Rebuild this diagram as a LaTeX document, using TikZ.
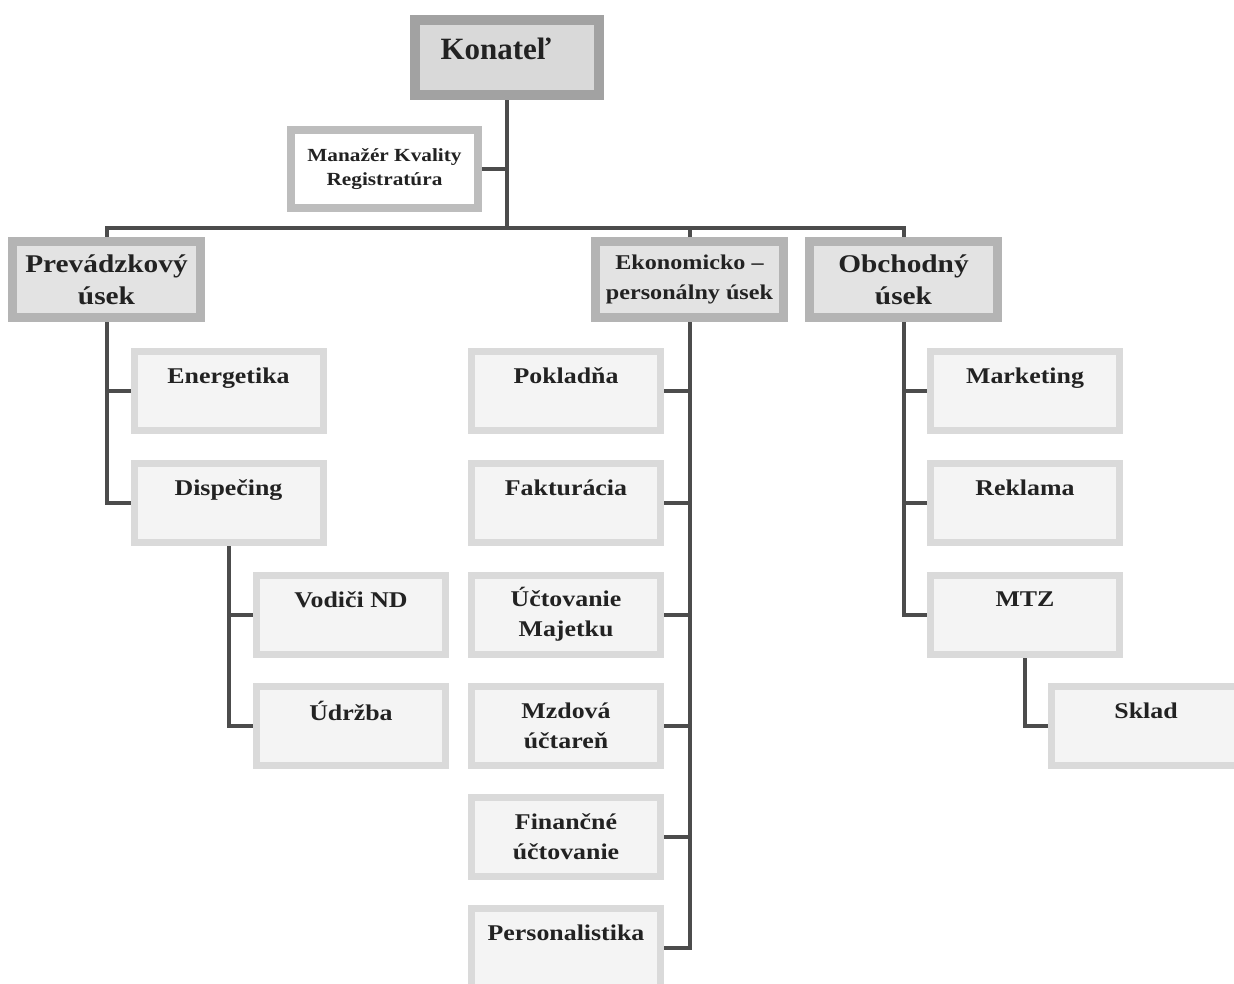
\documentclass[tikz,border=0pt]{standalone}
\usepackage{fontspec}
\setmainfont[FakeStretch=1.15]{Liberation Serif}
\newfontfamily\plainserif{Liberation Serif}
\usetikzlibrary{backgrounds}
\definecolor{topborder}{HTML}{A2A2A2}
\definecolor{topfill}{HTML}{D9D9D9}
\definecolor{headborder}{HTML}{B4B4B4}
\definecolor{headfill}{HTML}{E3E3E3}
\definecolor{childborder}{HTML}{DADADA}
\definecolor{childfill}{HTML}{F4F4F4}
\definecolor{mgrborder}{HTML}{BDBDBD}
\definecolor{linkcol}{HTML}{4C4C4C}
\definecolor{textcol}{HTML}{222222}
\tikzset{
  box/.style={rectangle, inner sep=0pt, align=center, text=textcol, font=\bfseries},
  topbox/.style={box, draw=topborder, fill=topfill, line width=10pt, minimum width=184pt, minimum height=75pt,
    font=\plainserif\bfseries\fontsize{31}{36}\selectfont, text height=22pt, text depth=18pt},
  headbox/.style={box, draw=headborder, fill=headfill, line width=9pt, minimum width=188pt, minimum height=76pt,
    font=\bfseries\fontsize{25.5}{32}\selectfont},
  ekobox/.style={headbox, font=\bfseries\fontsize{21}{30}\selectfont},
  mgrbox/.style={box, draw=mgrborder, fill=white, line width=8pt, minimum width=187pt, minimum height=78pt,
    font=\bfseries\fontsize{18.5}{24}\selectfont},
  childbox/.style={box, draw=childborder, fill=childfill, line width=7pt, minimum width=189pt, minimum height=79pt,
    font=\bfseries\fontsize{22.5}{30}\selectfont},
  link/.style={draw=linkcol, line width=4pt}
}
\begin{document}
\begin{tikzpicture}[x=1pt,y=-1pt]
\useasboundingbox (0,0) rectangle (1234,984);
\node[topbox] (kon) at (507,57.5) {Konateľ\hspace*{22pt}};
\node[mgrbox] (mgr) at (384.5,169) {Manažér Kvality\\Registratúra};
\node[headbox] (prev) at (106.5,279.5) {Prevádzkový\\úsek};
\node[ekobox] (eko) at (689.5,279.5) {Ekonomicko –\\personálny úsek};
\node[headbox] (obch) at (903.5,279.5) {Obchodný\\úsek};
\node[childbox] (ene) at (228.5,391) {Energetika\\\mbox{}};
\node[childbox] (dis) at (228.5,502.5) {Dispečing\\\mbox{}};
\node[childbox] (vod) at (351,614.5) {Vodiči ND\\\mbox{}};
\node[childbox] (udr) at (351,725.5) {Údržba\\\mbox{}};
\node[childbox] (pok) at (566,391) {Pokladňa\\\mbox{}};
\node[childbox] (fak) at (566,502.5) {Fakturácia\\\mbox{}};
\node[childbox] (uct) at (566,614.5) {Účtovanie\\Majetku};
\node[childbox] (mzd) at (566,725.5) {Mzdová\\účtareň};
\node[childbox] (fin) at (566,836.5) {Finančné\\účtovanie};
\node[childbox] (per) at (566,948) {Personalistika\\\mbox{}};
\node[childbox] (mar) at (1025,391) {Marketing\\\mbox{}};
\node[childbox] (rek) at (1025,502.5) {Reklama\\\mbox{}};
\node[childbox] (mtz) at (1025,614.5) {MTZ\\\mbox{}};
\node[childbox] (skl) at (1146,725.5) {Sklad\\\mbox{}};
\coordinate (bus) at (507,228);
\begin{scope}[on background layer]
\draw[link] (kon.south) -- (bus);
\draw[link] (mgr.east) -- (mgr.east -| kon.south);
\draw[link] (prev.north) -- (prev.north |- bus) -| (obch.north);
\draw[link] (eko.north) -- (eko.north |- bus);
\draw[link] (prev.south) |- (dis.west);
\draw[link] (prev.south |- ene.west) -- (ene.west);
\draw[link] (dis.south) |- (udr.west);
\draw[link] (dis.south |- vod.west) -- (vod.west);
\draw[link] (eko.south) |- (per.east);
\draw[link] (eko.south |- pok.east) -- (pok.east);
\draw[link] (eko.south |- fak.east) -- (fak.east);
\draw[link] (eko.south |- uct.east) -- (uct.east);
\draw[link] (eko.south |- mzd.east) -- (mzd.east);
\draw[link] (eko.south |- fin.east) -- (fin.east);
\draw[link] (obch.south) |- (mtz.west);
\draw[link] (obch.south |- mar.west) -- (mar.west);
\draw[link] (obch.south |- rek.west) -- (rek.west);
\draw[link] (mtz.south) |- (skl.west);
\end{scope}
\end{tikzpicture}
\end{document}
